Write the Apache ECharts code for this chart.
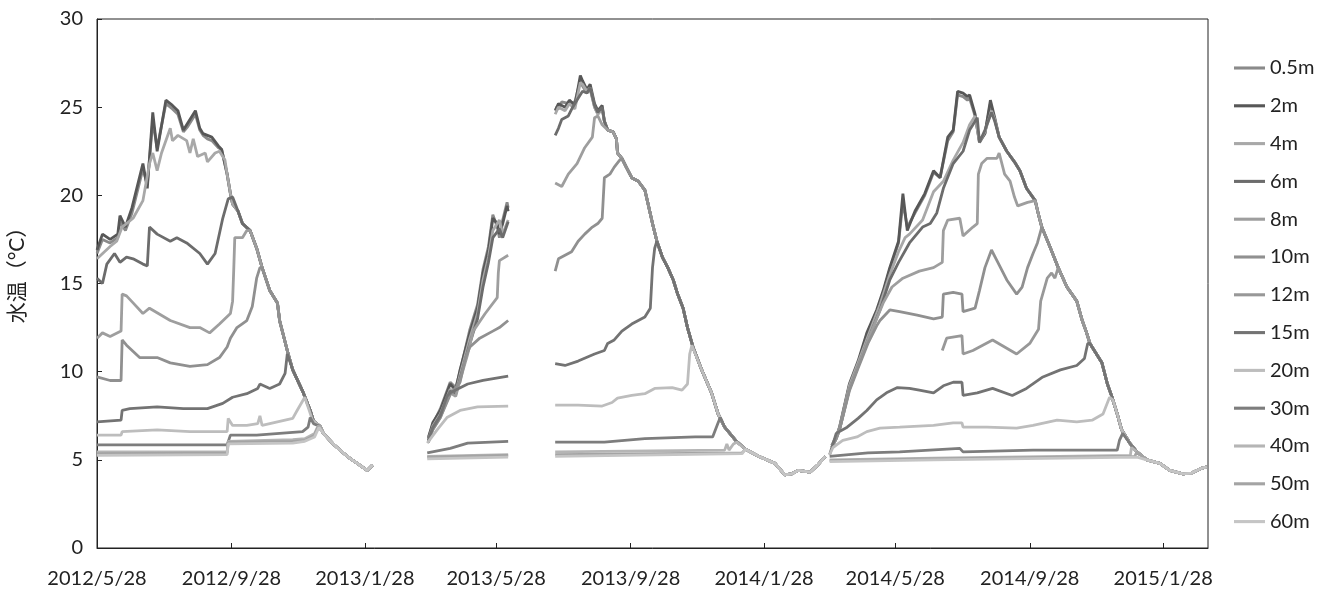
<!DOCTYPE html>
<html>
<head>
<meta charset="utf-8">
<script src="https://cdn.jsdelivr.net/npm/echarts@6/dist/echarts.min.js"></script>
<style>
  html, body { margin: 0; padding: 0; background: #fff; }
  #chart { width: 1332px; height: 592px; }
</style>
</head>
<body>
<div id="chart"></div>
<script>
// depth labels and x tick labels
var depths = ['0.5m', '2m', '4m', '6m', '8m', '10m', '12m', '15m', '20m', '30m', '40m', '50m', '60m'];
var xTickLabels = ['2012/5/28', '2012/9/28', '2013/1/28', '2013/5/28', '2013/9/28', '2014/1/28', '2014/5/28', '2014/9/28', '2015/1/28'];

// mixed (overturn) water column, every depth follows it once it has joined
var mix2012 = [['2012-09-19',22.6],['2012-09-24',21.2],['2012-09-27',20.1],['2012-09-29',19.5],['2012-10-04',19.1],['2012-10-08',18.4],['2012-10-15',18.0],['2012-10-21',17.0],['2012-10-26',15.9],['2012-11-02',14.6],['2012-11-09',13.9],['2012-11-11',12.9],['2012-11-18',11.2],['2012-11-23',10.1],['2012-12-02',8.9],['2012-12-09',7.8],['2012-12-12',7.2],['2012-12-18',6.9],['2012-12-21',6.5],['2012-12-30',5.9],['2013-01-08',5.4],['2013-01-14',5.1],['2013-01-21',4.8],['2013-01-30',4.4],['2013-02-04',4.7]];
var mix2013 = [['2013-09-04',24.2],['2013-09-07',23.7],['2013-09-12',23.6],['2013-09-15',23.2],['2013-09-16',22.4],['2013-09-20',22.1],['2013-09-24',21.6],['2013-09-29',21.0],['2013-10-05',20.8],['2013-10-11',20.3],['2013-10-14',19.5],['2013-10-18',18.4],['2013-10-22',17.4],['2013-10-27',16.5],['2013-11-01',15.9],['2013-11-06',15.2],['2013-11-10',14.4],['2013-11-15',13.6],['2013-11-19',12.5],['2013-11-24',11.4],['2013-12-02',10.1],['2013-12-11',8.8],['2013-12-17',7.6],['2013-12-23',6.85],['2014-01-02',6.1],['2014-01-11',5.6],['2014-01-23',5.2],['2014-02-07',4.8],['2014-02-16',4.15],['2014-02-22',4.2],['2014-02-28',4.4],['2014-03-11',4.3],['2014-03-18',4.7],['2014-03-25',5.2]];
var mix2014 = [['2014-08-31',23.3],['2014-09-07',22.5],['2014-09-14',21.9],['2014-09-19',21.4],['2014-09-25',20.4],['2014-10-03',19.7],['2014-10-06',18.9],['2014-10-09',18.2],['2014-10-17',17.0],['2014-10-24',15.9],['2014-11-01',14.8],['2014-11-10',14.0],['2014-11-15',12.9],['2014-11-19',12.2],['2014-11-22',11.6],['2014-12-03',10.5],['2014-12-08',9.3],['2014-12-12',8.6],['2014-12-17',7.6],['2014-12-21',6.7],['2014-12-29',5.9],['2015-01-04',5.45],['2015-01-13',5.0],['2015-01-25',4.8],['2015-02-03',4.4],['2015-02-15',4.2],['2015-02-23',4.25],['2015-03-03',4.5],['2015-03-09',4.6]];

// 2012 summer, stratified part
var d05_12 = [['2012-05-28',16.7],['2012-06-02',17.5],['2012-06-09',17.3],['2012-06-16',17.6],['2012-06-18',18.5],['2012-06-23',18.0],['2012-06-29',19.0],['2012-07-09',21.5],['2012-07-13',20.6],['2012-07-18',24.2],['2012-07-22',22.7],['2012-07-30',25.2],['2012-08-05',24.9],['2012-08-10',24.6],['2012-08-15',23.6],['2012-08-19',23.9],['2012-08-26',24.6],['2012-08-30',23.7],['2012-09-02',23.4],['2012-09-06',23.2],['2012-09-10',23.1],['2012-09-16',22.7]];
var d2_12 = [['2012-05-28',16.9],['2012-06-02',17.8],['2012-06-09',17.5],['2012-06-16',17.8],['2012-06-18',18.85],['2012-06-23',18.2],['2012-06-29',19.3],['2012-07-09',21.8],['2012-07-13',20.4],['2012-07-18',24.7],['2012-07-22',22.5],['2012-07-30',25.4],['2012-08-05',25.1],['2012-08-10',24.8],['2012-08-15',23.7],['2012-08-19',24.1],['2012-08-26',24.8],['2012-08-30',23.8],['2012-09-02',23.5],['2012-09-06',23.4],['2012-09-10',23.3],['2012-09-16',22.8]];
var d4_12 = [['2012-05-28',16.4],['2012-06-09',17.1],['2012-06-15',17.4],['2012-06-20',18.2],['2012-06-30',18.7],['2012-07-09',19.7],['2012-07-15',21.8],['2012-07-18',22.4],['2012-07-22',21.4],['2012-07-26',22.4],['2012-08-03',23.8],['2012-08-05',23.1],['2012-08-10',23.4],['2012-08-18',23.1],['2012-08-21',22.4],['2012-08-24',23.2],['2012-08-28',22.2],['2012-09-04',22.4],['2012-09-06',21.9],['2012-09-13',22.4],['2012-09-17',22.5],['2012-09-22',22.0]];
var d6_12 = [['2012-05-28',15.3],['2012-06-02',15.0],['2012-06-06',16.1],['2012-06-13',16.7],['2012-06-18',16.2],['2012-06-24',16.5],['2012-06-30',16.4],['2012-07-09',16.1],['2012-07-13',16.0],['2012-07-15',18.2],['2012-07-22',17.8],['2012-08-03',17.4],['2012-08-09',17.6],['2012-08-18',17.3],['2012-08-30',16.7],['2012-09-06',16.1],['2012-09-13',16.7],['2012-09-20',18.7],['2012-09-25',19.8],['2012-09-29',19.9]];
var d8_12 = [['2012-05-28',11.9],['2012-06-02',12.2],['2012-06-09',12.0],['2012-06-19',12.3],['2012-06-20',14.4],['2012-06-24',14.3],['2012-06-30',13.9],['2012-07-09',13.3],['2012-07-15',13.6],['2012-08-03',12.9],['2012-08-21',12.5],['2012-08-30',12.5],['2012-09-08',12.2],['2012-09-17',12.7],['2012-09-27',13.3],['2012-09-29',14.0],['2012-09-30',15.7],['2012-10-01',17.6],['2012-10-08',17.6],['2012-10-12',18.0]];
var d10_12 = [['2012-05-28',9.7],['2012-06-09',9.5],['2012-06-19',9.5],['2012-06-20',11.8],['2012-06-24',11.5],['2012-07-06',10.8],['2012-07-22',10.8],['2012-08-03',10.5],['2012-08-21',10.3],['2012-09-06',10.4],['2012-09-17',10.8],['2012-09-24',11.4],['2012-09-27',11.9],['2012-10-03',12.5],['2012-10-12',12.9],['2012-10-17',13.7],['2012-10-21',15.3],['2012-10-24',15.9]];
var d15_12 = [['2012-05-28',7.15],['2012-06-19',7.25],['2012-06-20',7.8],['2012-06-27',7.9],['2012-07-22',8.0],['2012-08-15',7.9],['2012-09-06',7.9],['2012-09-20',8.2],['2012-09-29',8.55],['2012-10-12',8.75],['2012-10-22',9.05],['2012-10-24',9.3],['2012-11-02',9.05],['2012-11-11',9.3],['2012-11-16',9.9],['2012-11-18',11.0]];
var d20_12 = [['2012-05-28',6.4],['2012-06-19',6.4],['2012-06-20',6.6],['2012-07-22',6.7],['2012-08-21',6.6],['2012-09-24',6.6],['2012-09-25',7.35],['2012-09-29',6.95],['2012-10-12',6.95],['2012-10-22',7.05],['2012-10-24',7.5],['2012-10-26',6.95],['2012-11-09',7.15],['2012-11-23',7.35],['2012-11-27',7.8],['2012-12-04',8.55],['2012-12-07',8.0],['2012-12-11',7.25]];
var d30_12 = [['2012-05-28',5.85],['2012-09-24',5.85],['2012-09-27',6.4],['2012-10-21',6.4],['2012-12-02',6.6],['2012-12-07',6.85],['2012-12-09',7.4],['2012-12-12',7.05]];
var d40_12 = [['2012-05-28',5.45],['2012-09-24',5.45],['2012-09-25',6.05],['2012-11-23',6.15],['2012-12-04',6.2],['2012-12-13',6.5],['2012-12-16',6.9]];
var d50_12 = [['2012-05-28',5.35],['2012-09-24',5.4],['2012-09-25',6.0],['2012-11-23',6.05],['2012-12-04',6.1],['2012-12-13',6.4],['2012-12-16',6.85]];
var d60_12 = [['2012-05-28',5.25],['2012-09-24',5.3],['2012-09-25',5.9],['2012-11-23',5.95],['2012-12-04',6.05],['2012-12-13',6.3],['2012-12-17',6.85]];

// 2013 spring
var d05_13a = [['2013-03-27',6.3],['2013-03-31',7.0],['2013-04-07',7.9],['2013-04-16',9.4],['2013-04-21',9.1],['2013-04-25',10.0],['2013-05-04',12.4],['2013-05-11',13.8],['2013-05-16',15.8],['2013-05-21',17.1],['2013-05-25',18.9],['2013-05-29',18.2],['2013-05-31',17.6],['2013-06-03',18.6],['2013-06-07',19.6],['2013-06-08',19.3]];
var d2_13a = [['2013-03-27',6.2],['2013-03-31',7.1],['2013-04-07',7.8],['2013-04-16',9.3],['2013-04-21',8.95],['2013-04-25',10.1],['2013-05-04',12.2],['2013-05-11',13.6],['2013-05-16',15.6],['2013-05-21',16.9],['2013-05-25',18.7],['2013-05-29',18.4],['2013-05-31',17.8],['2013-06-03',18.4],['2013-06-07',19.4],['2013-06-08',19.1]];
var d4_13a = [['2013-03-27',6.1],['2013-03-31',6.9],['2013-04-07',7.6],['2013-04-16',9.0],['2013-04-21',8.8],['2013-04-25',9.8],['2013-05-04',11.9],['2013-05-11',13.3],['2013-05-16',15.2],['2013-05-21',16.5],['2013-05-25',18.0],['2013-05-31',18.6],['2013-06-03',17.8],['2013-06-08',18.6]];
var d6_13a = [['2013-03-27',6.0],['2013-03-31',6.8],['2013-04-07',7.5],['2013-04-16',8.9],['2013-04-21',8.7],['2013-04-25',9.6],['2013-05-04',11.6],['2013-05-11',13.0],['2013-05-16',14.8],['2013-05-21',16.2],['2013-05-25',17.6],['2013-05-31',18.1],['2013-06-03',17.6],['2013-06-08',18.5]];
var d8_13a = [['2013-03-27',6.0],['2013-03-31',6.7],['2013-04-07',7.4],['2013-04-16',8.8],['2013-04-21',8.6],['2013-04-25',9.5],['2013-05-02',11.0],['2013-05-07',12.3],['2013-05-18',13.3],['2013-05-29',14.2],['2013-05-30',15.6],['2013-05-31',16.3],['2013-06-08',16.6]];
var d10_13a = [['2013-03-27',6.0],['2013-03-31',6.7],['2013-04-07',7.4],['2013-04-16',8.7],['2013-04-25',9.4],['2013-04-30',10.8],['2013-05-04',11.4],['2013-05-13',11.9],['2013-05-25',12.3],['2013-05-31',12.5],['2013-06-08',12.9]];
var d15_13a = [['2013-03-27',6.1],['2013-03-31',6.8],['2013-04-07',7.5],['2013-04-13',8.6],['2013-04-16',8.8],['2013-05-02',9.3],['2013-05-16',9.5],['2013-06-08',9.75]];
var d20_13a = [['2013-03-26',5.95],['2013-04-04',6.7],['2013-04-13',7.4],['2013-04-25',7.8],['2013-05-11',8.0],['2013-06-08',8.05]];
var d30_13a = [['2013-03-26',5.4],['2013-04-16',5.65],['2013-05-02',5.95],['2013-06-08',6.05]];
var d40_13a = [['2013-03-26',5.2],['2013-06-08',5.3]];
var d50_13a = [['2013-03-26',5.15],['2013-06-08',5.25]];
var d60_13a = [['2013-03-26',5.05],['2013-06-08',5.15]];

// 2013 summer, stratified part
var d05_13b = [['2013-07-21',25.0],['2013-07-24',24.9],['2013-07-27',25.3],['2013-08-03',25.2],['2013-08-08',25.3],['2013-08-13',26.5],['2013-08-15',26.2],['2013-08-19',25.8],['2013-08-22',26.0],['2013-08-26',25.0],['2013-08-29',24.6],['2013-09-02',24.9]];
var d2_13b = [['2013-07-21',24.8],['2013-07-24',25.2],['2013-07-30',25.0],['2013-08-03',25.4],['2013-08-08',25.1],['2013-08-13',26.8],['2013-08-15',26.5],['2013-08-19',26.0],['2013-08-22',26.3],['2013-08-26',25.2],['2013-08-29',24.8],['2013-09-02',25.1]];
var d4_13b = [['2013-07-21',24.6],['2013-07-24',25.0],['2013-07-30',24.8],['2013-08-03',25.2],['2013-08-08',24.9],['2013-08-13',26.4],['2013-08-15',26.3],['2013-08-19',25.9],['2013-08-22',26.1],['2013-08-26',25.0],['2013-08-29',24.6],['2013-09-02',24.9]];
var d6_13b = [['2013-07-21',23.4],['2013-07-24',23.8],['2013-07-27',24.3],['2013-08-02',24.5],['2013-08-06',25.0],['2013-08-11',25.5],['2013-08-15',25.9],['2013-08-19',25.8],['2013-08-22',26.1],['2013-08-26',25.1],['2013-08-29',24.7],['2013-09-02',25.0]];
var d8_13b = [['2013-07-21',20.7],['2013-07-27',20.5],['2013-08-02',21.2],['2013-08-10',21.8],['2013-08-17',22.7],['2013-08-24',23.3],['2013-08-26',24.4],['2013-08-29',24.5],['2013-09-02',24.0]];
var d10_13b = [['2013-07-21',15.7],['2013-07-24',16.4],['2013-07-30',16.6],['2013-08-05',16.8],['2013-08-11',17.4],['2013-08-17',17.8],['2013-08-24',18.2],['2013-08-29',18.4],['2013-09-02',18.7],['2013-09-04',21.0],['2013-09-09',21.2],['2013-09-13',21.6],['2013-09-18',22.0]];
var d15_13b = [['2013-07-21',10.45],['2013-07-30',10.35],['2013-08-11',10.6],['2013-08-26',11.0],['2013-09-04',11.2],['2013-09-07',11.6],['2013-09-13',11.8],['2013-09-20',12.3],['2013-09-29',12.7],['2013-10-11',13.1],['2013-10-16',13.6],['2013-10-18',15.9],['2013-10-20',17.0]];
var d20_13b = [['2013-07-21',8.1],['2013-08-11',8.1],['2013-09-02',8.05],['2013-09-11',8.25],['2013-09-16',8.5],['2013-09-29',8.65],['2013-10-11',8.75],['2013-10-20',9.05],['2013-11-05',9.1],['2013-11-14',8.95],['2013-11-19',9.3],['2013-11-21',11.0],['2013-11-23',11.5]];
var d30_13b = [['2013-07-21',6.0],['2013-09-04',6.0],['2013-10-11',6.2],['2013-11-26',6.3],['2013-12-12',6.3],['2013-12-17',7.1],['2013-12-19',7.4]];
var d40_13b = [['2013-07-21',5.45],['2013-12-23',5.55],['2013-12-25',5.9],['2013-12-27',5.55],['2013-12-31',5.9],['2014-01-03',6.0]];
var d50_13b = [['2013-07-21',5.3],['2014-01-08',5.4]];
var d60_13b = [['2013-07-21',5.2],['2014-01-08',5.35]];

// 2014 spring and summer
var d05_14 = [['2014-03-31',5.8],['2014-04-04',6.3],['2014-04-07',6.8],['2014-04-16',9.2],['2014-04-24',10.5],['2014-05-02',12.1],['2014-05-11',13.4],['2014-05-17',14.5],['2014-05-23',15.8],['2014-05-31',17.3],['2014-06-04',19.6],['2014-06-08',18.2],['2014-06-15',19.0],['2014-06-24',20.0],['2014-07-02',21.3],['2014-07-08',21.0],['2014-07-15',23.1],['2014-07-20',23.6],['2014-07-24',25.7],['2014-07-29',25.6],['2014-08-02',25.4],['2014-08-04',25.5],['2014-08-09',24.5],['2014-08-13',23.1],['2014-08-18',23.5],['2014-08-23',25.2],['2014-08-27',24.3]];
var d2_14 = [['2014-03-31',5.8],['2014-04-04',6.3],['2014-04-07',6.85],['2014-04-16',9.3],['2014-04-24',10.6],['2014-05-02',12.2],['2014-05-11',13.5],['2014-05-17',14.6],['2014-05-23',15.9],['2014-05-31',17.4],['2014-06-04',20.1],['2014-06-08',18.0],['2014-06-15',19.1],['2014-06-24',20.1],['2014-07-02',21.4],['2014-07-08',21.0],['2014-07-15',23.3],['2014-07-20',23.7],['2014-07-24',25.9],['2014-07-29',25.8],['2014-08-02',25.6],['2014-08-04',25.7],['2014-08-09',24.6],['2014-08-13',23.0],['2014-08-18',23.5],['2014-08-23',25.4],['2014-08-27',24.4]];
var d4_14 = [['2014-03-31',5.8],['2014-04-04',6.3],['2014-04-07',6.8],['2014-04-16',9.2],['2014-04-24',10.5],['2014-05-03',12.0],['2014-05-14',13.8],['2014-05-23',15.5],['2014-05-31',16.8],['2014-06-06',17.6],['2014-06-10',17.8],['2014-06-22',18.6],['2014-07-02',20.2],['2014-07-11',20.8],['2014-07-20',22.0],['2014-07-29',23.0],['2014-08-04',24.0],['2014-08-09',24.5],['2014-08-13',23.0],['2014-08-18',23.6],['2014-08-24',24.8],['2014-08-27',24.3]];
var d6_14 = [['2014-03-31',5.7],['2014-04-04',6.2],['2014-04-07',6.7],['2014-04-16',9.0],['2014-04-24',10.3],['2014-05-03',11.8],['2014-05-14',13.5],['2014-05-23',15.2],['2014-05-31',16.2],['2014-06-10',17.3],['2014-06-22',18.2],['2014-06-29',18.4],['2014-07-05',19.0],['2014-07-11',20.4],['2014-07-20',21.8],['2014-07-29',22.5],['2014-08-04',23.7],['2014-08-11',24.4],['2014-08-13',23.0],['2014-08-18',23.7],['2014-08-24',24.7],['2014-08-27',24.2]];
var d8_14 = [['2014-03-31',5.7],['2014-04-04',6.2],['2014-04-07',6.7],['2014-04-16',9.0],['2014-04-24',10.3],['2014-05-03',11.8],['2014-05-11',13.0],['2014-05-17',13.9],['2014-05-25',14.8],['2014-06-04',15.3],['2014-06-19',15.7],['2014-07-02',15.9],['2014-07-10',16.2],['2014-07-11',18.0],['2014-07-15',18.6],['2014-07-26',18.7],['2014-07-29',17.7],['2014-08-07',18.2],['2014-08-11',18.4],['2014-08-12',21.2],['2014-08-15',21.8],['2014-08-20',22.1],['2014-08-29',22.1],['2014-08-31',22.4],['2014-09-05',21.2],['2014-09-10',20.8],['2014-09-14',19.9],['2014-09-17',19.4],['2014-09-26',19.6]];
var d10_14 = [['2014-03-31',5.7],['2014-04-04',6.2],['2014-04-07',6.7],['2014-04-16',8.9],['2014-04-24',10.2],['2014-05-03',11.6],['2014-05-11',12.6],['2014-05-14',12.9],['2014-05-23',13.5],['2014-06-01',13.4],['2014-06-17',13.2],['2014-07-02',13.0],['2014-07-10',13.1],['2014-07-11',14.4],['2014-07-20',14.5],['2014-07-28',14.4],['2014-07-29',13.4],['2014-08-09',13.6],['2014-08-13',14.6],['2014-08-18',15.9],['2014-08-24',16.9],['2014-08-29',16.3],['2014-09-07',15.2],['2014-09-16',14.4],['2014-09-21',14.8],['2014-09-26',15.9],['2014-10-01',16.7],['2014-10-05',17.3]];
var d12_14 = [['2014-07-10',11.2],['2014-07-14',11.9],['2014-07-28',12.05],['2014-07-29',11.0],['2014-08-07',11.2],['2014-08-25',11.8],['2014-09-16',11.0],['2014-09-28',11.6],['2014-10-06',12.4],['2014-10-08',14.0],['2014-10-14',15.3],['2014-10-18',15.6],['2014-10-21',15.3]];
var d15_14 = [['2014-03-29',5.3],['2014-04-04',6.5],['2014-04-14',6.85],['2014-04-24',7.35],['2014-05-02',7.8],['2014-05-11',8.4],['2014-05-20',8.8],['2014-05-30',9.1],['2014-06-10',9.05],['2014-06-19',8.95],['2014-07-02',8.8],['2014-07-11',9.2],['2014-07-20',9.4],['2014-07-28',9.4],['2014-07-29',8.65],['2014-08-11',8.8],['2014-08-25',9.05],['2014-09-12',8.65],['2014-09-25',9.05],['2014-10-10',9.7],['2014-10-26',10.1],['2014-11-10',10.35],['2014-11-17',10.75],['2014-11-20',11.6]];
var d20_14 = [['2014-03-29',5.3],['2014-04-01',5.7],['2014-04-10',6.1],['2014-04-23',6.3],['2014-05-02',6.6],['2014-05-14',6.8],['2014-06-01',6.85],['2014-07-02',6.95],['2014-07-20',7.1],['2014-07-28',7.1],['2014-07-29',6.85],['2014-08-20',6.85],['2014-09-16',6.8],['2014-10-01',6.95],['2014-10-23',7.25],['2014-11-10',7.15],['2014-11-24',7.25],['2014-12-04',7.6],['2014-12-10',8.55],['2014-12-13',8.4]];
var d30_14 = [['2014-03-29',5.2],['2014-05-03',5.4],['2014-06-01',5.45],['2014-07-26',5.65],['2014-07-29',5.45],['2014-10-01',5.55],['2014-12-17',5.55],['2014-12-19',6.1],['2014-12-22',6.5]];
var d40_14 = [['2014-03-29',5.0],['2014-07-02',5.1],['2014-12-29',5.25],['2014-12-30',5.7],['2015-01-01',5.6]];
var d50_14 = [['2014-03-29',4.95],['2014-07-02',5.05],['2015-01-02',5.2]];
var d60_14 = [['2014-03-29',4.9],['2014-07-02',5.0],['2015-01-04',5.15]];

var colors = ['#8a8a8a', '#575757', '#a8a8a8', '#6c6c6c', '#9e9e9e', '#909090', '#989898', '#737373', '#bdbdbd', '#7d7d7d', '#b5b5b5', '#a4a4a4', '#c5c5c5'];

function toTime(s){
    var p = s.split(/[-\/]/);
    return new Date(+p[0], +p[1] - 1, +p[2]).getTime();
}
function mixFrom(mix, from) {
    return mix.filter(function(p){ return p[0] >= from; });
}
function gap(date){ return [[date, null]]; }

// pieces: 2012 own + mix from join, spring 2013, summer 2013 own + mix, 2014 own + mix
function build(s12, j12, s13a, s13b, j13, s14, j14){
    var out = [];
    if (s12) out = out.concat(s12, mixFrom(mix2012, j12));
    out = out.concat(gap('2013-03-01'));
    if (s13a) out = out.concat(s13a);
    out = out.concat(gap('2013-06-20'));
    if (s13b) out = out.concat(s13b, mixFrom(mix2013, j13));
    out = out.concat(gap('2014-03-27'));
    out = out.concat(s14, mixFrom(mix2014, j14));
    return out.map(function(p){ return [toTime(p[0]), p[1] == null ? '-' : p[1]]; });
}

var seriesData = [
    build(d05_12, '2012-09-19', d05_13a, d05_13b, '2013-09-04', d05_14, '2014-08-31'),
    build(d2_12, '2012-09-19', d2_13a, d2_13b, '2013-09-04', d2_14, '2014-08-31'),
    build(d4_12, '2012-09-24', d4_13a, d4_13b, '2013-09-04', d4_14, '2014-08-31'),
    build(d6_12, '2012-10-04', d6_13a, d6_13b, '2013-09-04', d6_14, '2014-08-31'),
    build(d8_12, '2012-10-15', d8_13a, d8_13b, '2013-09-07', d8_14, '2014-10-03'),
    build(d10_12, '2012-10-26', d10_13a, d10_13b, '2013-09-20', d10_14, '2014-10-09'),
    build(null, null, null, null, null, d12_14, '2014-10-24'),
    build(d15_12, '2012-11-23', d15_13a, d15_13b, '2013-10-22', d15_14, '2014-11-22'),
    build(d20_12, '2012-12-12', d20_13a, d20_13b, '2013-11-24', d20_14, '2014-12-17'),
    build(d30_12, '2012-12-18', d30_13a, d30_13b, '2013-12-23', d30_14, '2014-12-29'),
    build(d40_12, '2012-12-18', d40_13a, d40_13b, '2014-01-11', d40_14, '2015-01-04'),
    build(d50_12, '2012-12-18', d50_13a, d50_13b, '2014-01-11', d50_14, '2015-01-04'),
    build(d60_12, '2012-12-18', d60_13a, d60_13b, '2014-01-11', d60_14, '2015-01-13')
];

var tickValues = xTickLabels.map(toTime);
var FONT = "Lato, 'Noto Sans CJK JP', sans-serif";

var chart = echarts.init(document.getElementById('chart'));
chart.setOption({
    animation: false,
    color: colors,
    grid: {left: 97, right: 124, top: 19, bottom: 44, show: true, borderColor: '#222', borderWidth: 1},
    legend: {
        orient: 'vertical', left: 1229, top: 53,
        icon: 'path://M0,0H30V3H0Z',
        itemWidth: 31, itemHeight: 14, itemGap: 17.8,
        textStyle: {fontFamily: FONT, fontSize: 20, color: '#222'},
        data: depths
    },
    // y-axis title, placed by hand to sit a little above the middle like the original
    graphic: [{
        type: 'text', x: 7, y: 270, rotation: Math.PI / 2,
        style: {text: '水温（°C）', fill: '#222', font: "21px Lato, 'Noto Sans CJK JP', sans-serif",
                textAlign: 'center', textVerticalAlign: 'top'}
    }],
    xAxis: {
        type: 'value',
        min: toTime('2012-05-28'), max: toTime('2015-03-10'),
        axisLine: {lineStyle: {color: '#222', width: 1}},
        axisTick: {show: true, inside: true, length: 5, customValues: tickValues, lineStyle: {color: '#222'}},
        axisLabel: {
            customValues: tickValues, margin: 21,
            fontFamily: FONT, fontSize: 20, color: '#222',
            formatter: function(v){
                var d = new Date(v);
                return d.getFullYear() + '/' + (d.getMonth() + 1) + '/' + d.getDate();
            }
        },
        splitLine: {show: false}
    },
    yAxis: {
        type: 'value', min: 0, max: 30, interval: 5,
        axisLine: {show: true, lineStyle: {color: '#222', width: 1}},
        axisTick: {show: true, inside: true, length: 5, lineStyle: {color: '#222'}},
        axisLabel: {fontFamily: FONT, fontSize: 20, color: '#222', margin: 14},
        splitLine: {show: false}
    },
    series: depths.map(function(name, i){
        return {
            name: name, type: 'line', data: seriesData[i],
            symbol: 'none', connectNulls: false,
            lineStyle: {width: 2.8, color: colors[i]}
        };
    })
});
</script>
</body>
</html>
